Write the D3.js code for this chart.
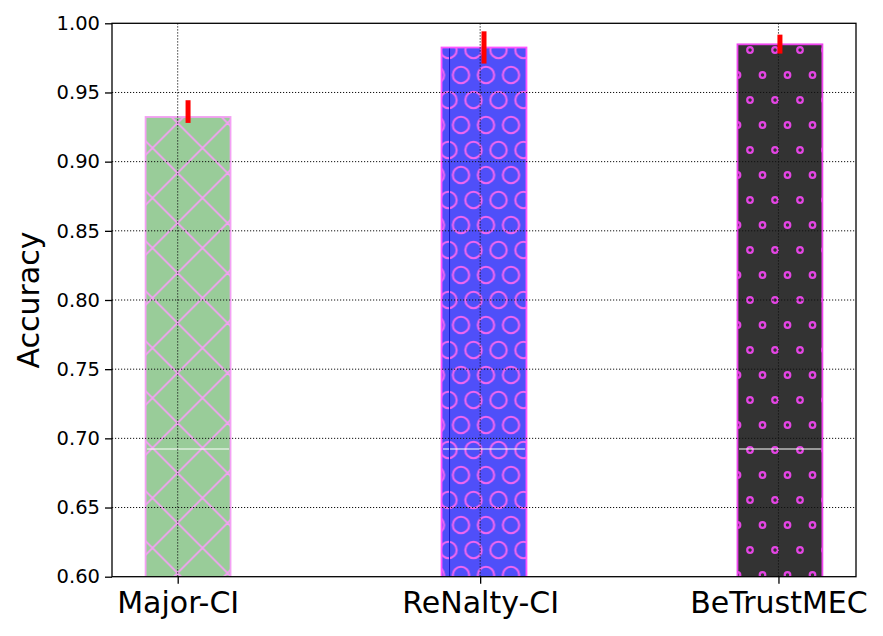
<!DOCTYPE html>
<html>
<head>
<meta charset="utf-8">
<script src="https://cdn.jsdelivr.net/npm/d3@7"></script>
<style>
  html, body { margin: 0; padding: 0; background: #fff; }
  svg { display: block; font-family: "DejaVu Sans", sans-serif; }
</style>
</head>
<body>
<svg id="chart" width="883" height="636"></svg>
<script>
// ---- data ----
const categories = ["Major-CI", "ReNalty-CI", "BeTrustMEC"];
const accuracy   = [0.9323, 0.9825, 0.9848];
const errLow     = [0.9280, 0.9709, 0.9781];
const errHigh    = [0.9444, 0.9942, 0.9918];
const barPositions  = [0, 1, 2];
const tickPositions = [-0.035, 0.987, 1.995];
const yTicks = [0.60, 0.65, 0.70, 0.75, 0.80, 0.85, 0.90, 0.95, 1.00];
const artifactLevel = 0.6923;

// ---- layout ----
const svg = d3.select("#chart");
const L = 112, R = 856, T = 23.3, B = 576.7;
const barWidth = 0.287;

const x = d3.scaleLinear().domain([-0.257, 2.257]).range([L, R]);
const y = d3.scaleLinear().domain([0.60, 1.00]).range([B, T]);

const defs = svg.append("defs");

// hatch 'x' for Major-CI
const p1 = defs.append("pattern").attr("id", "hatchX")
  .attr("patternUnits", "userSpaceOnUse")
  .attr("x", 27.5).attr("y", 23).attr("width", 50).attr("height", 50);
p1.append("rect").attr("width", 50).attr("height", 50).attr("fill", "#99cc99");
p1.append("line").attr("x1", -5).attr("y1", -5).attr("x2", 55).attr("y2", 55)
  .attr("stroke", "#f4a0f4").attr("stroke-width", 1.8);
p1.append("line").attr("x1", 55).attr("y1", -5).attr("x2", -5).attr("y2", 55)
  .attr("stroke", "#f4a0f4").attr("stroke-width", 1.8);

function circlePattern(id, ox, fill, stroke, r, sw) {
  const p = defs.append("pattern").attr("id", id)
    .attr("patternUnits", "userSpaceOnUse")
    .attr("x", ox).attr("y", 0).attr("width", 25).attr("height", 50);
  p.append("rect").attr("width", 25).attr("height", 50).attr("fill", fill);
  [[0,0],[25,0],[0,50],[25,50],[12.5,25]].forEach(([cx, cy]) => {
    p.append("circle").attr("cx", cx).attr("cy", cy).attr("r", r)
      .attr("fill", "none").attr("stroke", stroke).attr("stroke-width", sw);
  });
}
circlePattern("hatchO", -1.5, "#4f4ff9", "#f066f0", 8.2, 2.1);
circlePattern("hatchDot", 0, "#333333", "#e444e4", 2.8, 2.2);

const fills = ["url(#hatchX)", "url(#hatchO)", "url(#hatchDot)"];
const edges = ["#f4a0f4", "#ff55ff", "#ee44ee"];

defs.append("clipPath").attr("id", "plotClip")
  .append("rect").attr("x", L).attr("y", T).attr("width", R - L).attr("height", B - T);

const plot = svg.append("g").attr("clip-path", "url(#plotClip)");

// bars
plot.selectAll("rect.bar").data(categories).enter().append("rect")
  .attr("class", "bar")
  .attr("x", (d, i) => x(barPositions[i] - barWidth / 2))
  .attr("width", (d, i) => x(barPositions[i] + barWidth / 2) - x(barPositions[i] - barWidth / 2))
  .attr("y", (d, i) => y(accuracy[i]))
  .attr("height", (d, i) => y(0.60) - y(accuracy[i]) + 2)
  .attr("fill", (d, i) => fills[i])
  .attr("stroke", (d, i) => edges[i])
  .attr("stroke-width", 1.8);

// rendering artifacts (white horizontal line and dark blue line)
plot.selectAll("line.art").data(categories).enter().append("line")
  .attr("class", "art")
  .attr("x1", (d, i) => x(barPositions[i] - barWidth / 2) + 1.5)
  .attr("x2", (d, i) => x(barPositions[i] + barWidth / 2) - 1.5)
  .attr("y1", y(artifactLevel)).attr("y2", y(artifactLevel))
  .attr("stroke", "#ffffff").attr("stroke-width", 1.2);
plot.append("line")
  .attr("x1", x(barPositions[1] - barWidth / 2) + 8).attr("x2", x(barPositions[1] - barWidth / 2) + 8)
  .attr("y1", y(accuracy[1]) + 1).attr("y2", y(0.60))
  .attr("stroke", "#1818c8").attr("stroke-width", 1);

// grid (drawn over bars)
const grid = svg.append("g");
grid.selectAll("line.gy").data(yTicks.slice(1, -1)).enter().append("line")
  .attr("x1", L).attr("x2", R).attr("y1", d => y(d)).attr("y2", d => y(d))
  .attr("stroke", "#111").attr("stroke-width", 1).attr("stroke-dasharray", "1.2,1.8");
grid.selectAll("line.gx").data(tickPositions).enter().append("line")
  .attr("x1", d => x(d)).attr("x2", d => x(d)).attr("y1", T).attr("y2", B)
  .attr("stroke", "#111").attr("stroke-width", 1).attr("stroke-dasharray", "1.2,1.8");

// error bars
svg.selectAll("line.err").data(categories).enter().append("line")
  .attr("class", "err")
  .attr("x1", (d, i) => x(barPositions[i])).attr("x2", (d, i) => x(barPositions[i]))
  .attr("y1", (d, i) => y(errLow[i])).attr("y2", (d, i) => y(errHigh[i]))
  .attr("stroke", "#ff0000").attr("stroke-width", 5);

// frame
svg.append("rect").attr("x", L).attr("y", T).attr("width", R - L).attr("height", B - T)
  .attr("fill", "none").attr("stroke", "#000").attr("stroke-width", 1.3);

// axes
const yAxis = d3.axisLeft(y).tickValues(yTicks).tickFormat(d3.format(".2f"))
  .tickSize(7).tickPadding(5);
const gy = svg.append("g").attr("transform", `translate(${L},0)`).call(yAxis);
gy.select(".domain").remove();
gy.selectAll(".tick line").attr("stroke", "#000").attr("stroke-width", 1.3);
gy.selectAll(".tick text").attr("font-size", "19.5px").attr("fill", "#000")
  .attr("font-family", "DejaVu Sans");

const xAxis = d3.axisBottom(x).tickValues(tickPositions)
  .tickFormat((d, i) => categories[i]).tickSize(7).tickPadding(8);
const gx = svg.append("g").attr("transform", `translate(0,${B})`).call(xAxis);
gx.select(".domain").remove();
gx.selectAll(".tick line").attr("stroke", "#000").attr("stroke-width", 1.3);
gx.selectAll(".tick text").attr("font-size", "30px").attr("fill", "#000")
  .attr("font-family", "DejaVu Sans");

// y label
svg.append("text")
  .attr("transform", `translate(39,${(T + B) / 2}) rotate(-90)`)
  .attr("text-anchor", "middle")
  .attr("font-size", "30px")
  .attr("font-family", "DejaVu Sans")
  .text("Accuracy");
</script>
</body>
</html>
